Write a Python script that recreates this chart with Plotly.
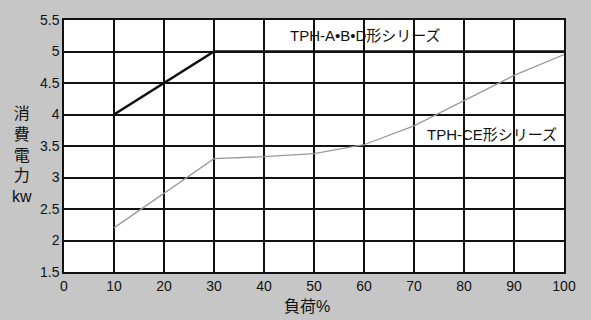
import plotly.graph_objects as go

# Load (%) on the x axis, power consumption (kW) on the y axis
load_abd = [10, 30, 100]
power_abd = [4.0, 5.0, 5.0]

load_ce = [10, 20, 30, 40, 50, 60, 70, 80, 90, 100]
power_ce = [2.2, 2.75, 3.3, 3.33, 3.38, 3.52, 3.82, 4.22, 4.62, 4.95]

x_ticks = [0, 10, 20, 30, 40, 50, 60, 70, 80, 90, 100]
y_ticks = [1.5, 2, 2.5, 3, 3.5, 4, 4.5, 5, 5.5]
y_tick_text = ["1.5", "2", "2.5", "3", "3.5", "4", "4.5", "5", "5.5"]

label_abd = "TPH-A•B•D形シリーズ"
label_ce = "TPH-CE形シリーズ"
x_title = "負荷%"
y_title = "消<br>費<br>電<br>力<br>kw"

font_family = "Liberation Sans, Arial, Noto Sans CJK JP, sans-serif"

fig = go.Figure()
fig.add_trace(go.Scatter(x=load_ce, y=power_ce, mode="lines",
                         line=dict(color="#9a9a9a", width=1.3), showlegend=False))
fig.add_trace(go.Scatter(x=load_abd, y=power_abd, mode="lines",
                         line=dict(color="#111111", width=2.6), showlegend=False))

fig.add_annotation(x=60.2, y=5.25, text=label_abd, showarrow=False,
                   font=dict(size=15, color="#111", family=font_family))
fig.add_annotation(x=85.6, y=3.68, text=label_ce, showarrow=False,
                   font=dict(size=15, color="#111", family=font_family))
# stacked vertical axis title
fig.add_annotation(x=-0.084, y=3.36, xref="paper", yref="y", text=y_title,
                   showarrow=False, align="center", xanchor="center", yanchor="middle",
                   font=dict(size=16, color="#111", family=font_family))
fig.add_annotation(x=48.6, y=-0.137, xref="x", yref="paper", text=x_title,
                   showarrow=False, xanchor="center", yanchor="middle",
                   font=dict(size=16, color="#111", family=font_family))

fig.update_layout(
    width=591, height=320,
    margin=dict(l=64, r=27, t=16, b=48),
    paper_bgcolor="#c6c6c6",
    plot_bgcolor="white",
    font=dict(family=font_family, color="#111", size=14),
    xaxis=dict(range=[0, 100], tickvals=x_ticks, showgrid=True,
               gridcolor="#111", gridwidth=1.5, zeroline=False,
               showline=True, linecolor="#111", linewidth=1.5, mirror=True,
               ticks="", tickfont=dict(size=14)),
    yaxis=dict(range=[1.5, 5.5], tickvals=y_ticks, ticktext=y_tick_text,
               showgrid=True, gridcolor="#111", gridwidth=1.5, zeroline=False,
               showline=True, linecolor="#111", linewidth=1.5, mirror=True,
               ticks="", tickfont=dict(size=14)),
)

fig.write_html("out.html")
